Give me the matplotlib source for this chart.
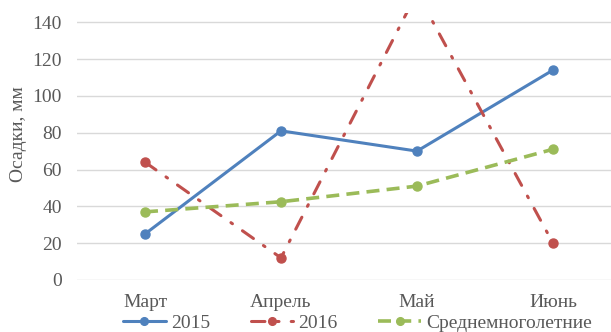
import matplotlib
matplotlib.use("Agg")
import matplotlib.pyplot as plt

months = ["Март", "Апрель", "Май", "Июнь"]
s2015 = [25, 81, 70, 114]
s2016 = [64, 12, 156, 20]
s_avg = [37, 42.5, 51, 71]
series_names = ["2015", "2016", "Среднемноголетние"]
yticks = [0, 20, 40, 60, 80, 100, 120, 140]

plt.rcParams['font.family'] = ['Liberation Serif', 'DejaVu Serif']
txt = '#595959'
fs = 14

fig = plt.figure(figsize=(6.11, 3.32), dpi=100)
ax = fig.add_axes([77/611, 52/332, 544/611, 267/332])
x = list(range(len(months)))

l1, = ax.plot(x, s2015, color='#4F81BD', lw=2.2, marker='o', ms=6.5,
              solid_capstyle='round', label=series_names[0])
l2, = ax.plot(x, s2016, color='#C0504D', lw=2.2, marker='o', ms=6.5,
              linestyle=(0, (4.4, 4.0, 0.6, 4.0)), dash_capstyle='round',
              label=series_names[1])
l3, = ax.plot(x, s_avg, color='#9BBB59', lw=2.6, marker='o', ms=6.5,
              linestyle=(0, (3.6, 2.0)), label=series_names[2])

ax.set_xlim(-0.5, 3.5)
ax.set_ylim(0, 145)
ax.set_yticks(yticks)
ax.set_xticks(x)
ax.set_xticklabels(months)
ax.grid(axis='y', color='#d9d9d9', lw=1)
ax.set_axisbelow(True)
for s in ax.spines.values():
    s.set_visible(False)
ax.tick_params(axis='y', length=0, pad=11, labelsize=fs, labelcolor=txt)
ax.tick_params(axis='x', length=0, pad=10, labelsize=fs, labelcolor=txt)
ax.set_ylabel("Осадки, мм", fontsize=fs, color=txt)
ax.yaxis.set_label_coords(-0.092, 0.547)

fig.legend(handles=[l1, l2, l3], loc='center', bbox_to_anchor=(0.585, 0.026),
           ncol=3, frameon=False, fontsize=fs, handlelength=2.2,
           handletextpad=0.25, columnspacing=2.1, labelcolor=txt,
           borderpad=0, borderaxespad=0, markerscale=0.85)

fig.savefig("out.png", dpi=100)
